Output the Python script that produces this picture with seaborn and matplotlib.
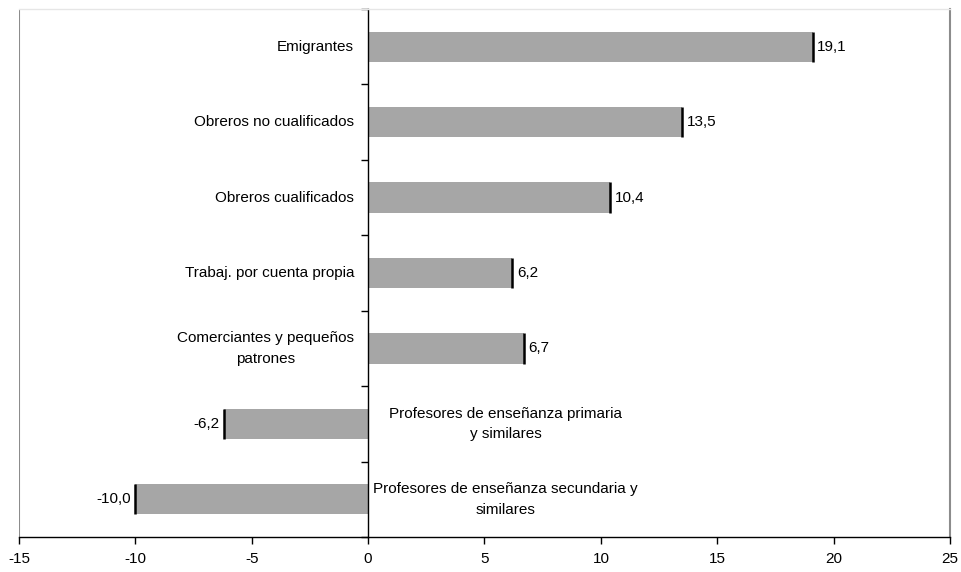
"""
Barras horizontales: variación por categoría socioprofesional
"""
import matplotlib
matplotlib.use("Agg")
import matplotlib.pyplot as plt
import seaborn as sns
import numpy as np
import pandas as pd

categorias = [
    "Emigrantes",
    "Obreros no cualificados",
    "Obreros cualificados",
    "Trabaj. por cuenta propia",
    "Comerciantes y pequeños\npatrones",
    "Profesores de enseñanza primaria\ny similares",
    "Profesores de enseñanza secundaria y\nsimilares",
]
valores = [19.1, 13.5, 10.4, 6.2, 6.7, -6.2, -10.0]
x_ticks = [-15, -10, -5, 0, 5, 10, 15, 20, 25]

sns.set_theme(style="white")
plt.rcParams["font.family"] = ["Liberation Sans", "DejaVu Sans"]
plt.rcParams["text.color"] = "black"
plt.rcParams["xtick.color"] = "black"
plt.rcParams["ytick.color"] = "black"

df = pd.DataFrame({"categoria": categorias, "valor": valores})

fig = plt.figure(figsize=(9.62, 5.72), dpi=100)
ax = fig.add_axes([19 / 962, 35 / 572, 931 / 962, 528 / 572])

sns.barplot(data=df, x="valor", y="categoria", orient="h", color="#a6a6a6",
            saturation=1, width=0.4, ax=ax, edgecolor="none")

ax.set_xlim(x_ticks[0], x_ticks[-1])
ax.set_ylim(len(categorias) - 0.5, -0.5)
ax.set_xticks(x_ticks)
ax.set_xticklabels([str(t) for t in x_ticks], fontsize=11)
ax.set_yticks(np.arange(len(categorias) + 1) - 0.5)
ax.set_yticklabels([])
ax.set_xlabel("")
ax.set_ylabel("")

# marco
ax.spines["left"].set_position(("data", 0))
ax.spines["left"].set_color("black")
ax.spines["left"].set_linewidth(1.0)
ax.spines["bottom"].set_color("black")
ax.spines["bottom"].set_linewidth(1.0)
ax.spines["right"].set_color("#8c8c8c")
ax.spines["right"].set_linewidth(1.5)
ax.spines["top"].set_color("#e6e6e6")
ax.spines["top"].set_linewidth(1.0)
ax.axvline(x_ticks[0], color="#8c8c8c", lw=1.5, zorder=0)
ax.tick_params(axis="both", direction="out", length=5, width=1, color="black",
               left=True, bottom=True)
ax.tick_params(axis="x", pad=6)

for i, v in enumerate(valores):
    # trazo negro al final de la barra
    ax.vlines(v, i - 0.2, i + 0.2, color="black", lw=1.8, zorder=3)
    etiqueta = f"{v:.1f}".replace(".", ",")
    if v >= 0:
        ax.text(v + 0.2, i, etiqueta, ha="left", va="center", fontsize=11)
        ax.text(-0.6, i, categorias[i], ha="right", va="center",
                multialignment="center", fontsize=11, linespacing=1.6)
    else:
        ax.text(v - 0.2, i, etiqueta, ha="right", va="center", fontsize=11)
        ax.text(5.9, i, categorias[i], ha="center", va="center",
                multialignment="center", fontsize=11, linespacing=1.6)

fig.savefig("out.png", dpi=100)
plt.close(fig)
